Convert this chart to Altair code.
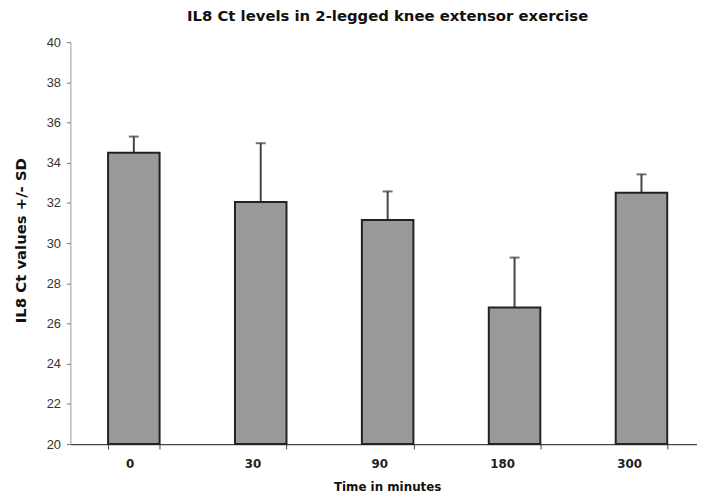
import altair as alt
import pandas as pd

times = ["0", "30", "90", "180", "300"]
means = [34.5, 32.05, 31.15, 26.8, 32.5]
tops = [35.3, 34.97, 32.57, 29.28, 33.42]

df = pd.DataFrame({"time": times, "mean": means, "top": tops, "base": [20] * len(times)})

xscale = alt.Scale(domain=times, range=[0, 641], paddingInner=0.594, paddingOuter=0.297)
yscale = alt.Scale(domain=[20, 40], nice=False, zero=False)

xaxis = alt.Axis(
    title="Time in minutes", tickBand="extent", tickSize=5, labelAngle=0,
    labelFont="DejaVu Sans", labelFontSize=12, labelFontWeight="bold", labelColor="#222",
    labelPadding=15,
    titleFont="DejaVu Sans", titleFontSize=12, titleFontWeight="bold", titleColor="#111",
    titleY=43, titleBaseline="middle", titleX=320, titleAnchor="middle",
    domainColor="#444", tickColor="#444", domainWidth=1.2, grid=False,
)
yaxis = alt.Axis(
    title="IL8 Ct values +/- SD", values=list(range(20, 41, 2)), tickSize=4,
    labelFont="Liberation Sans", labelFontSize=13, labelColor="#333", labelPadding=6,
    titleFont="DejaVu Sans", titleFontSize=15, titleFontWeight="bold", titleColor="#111",
    titleX=-50, titleY=200, titleAngle=270, titleBaseline="middle", titleAnchor="middle",
    domainColor="#999", tickColor="#777", grid=False,
)

base = alt.Chart(df)

bars = base.mark_bar(color="#999999", stroke="#222", strokeWidth=2).encode(
    x=alt.X("time:N", sort=times, scale=xscale, axis=xaxis),
    y=alt.Y("mean:Q", scale=yscale, axis=yaxis),
    y2="base:Q",
)

err = base.mark_rule(color="#444", strokeWidth=2).encode(
    x=alt.X("time:N", sort=times, scale=xscale),
    y="mean:Q",
    y2="top:Q",
)

caps = base.mark_tick(color="#333", thickness=2, size=10).encode(
    x=alt.X("time:N", sort=times, scale=xscale),
    y="top:Q",
)

chart = alt.layer(err, bars, caps).properties(
    width=633, height=406,
    title=alt.TitleParams(
        "IL8 Ct levels in 2-legged knee extensor exercise",
        font="DejaVu Sans", fontSize=15, fontWeight="bold", color="#111",
        anchor="middle", dx=4, offset=12,
    ),
    autosize=alt.AutoSizeParams(type="none"),
    padding={"left": 63, "top": 32, "right": 0, "bottom": 50},
).configure_view(stroke=None)

chart.save("out.html", embed_options={"renderer": "svg", "actions": False})
